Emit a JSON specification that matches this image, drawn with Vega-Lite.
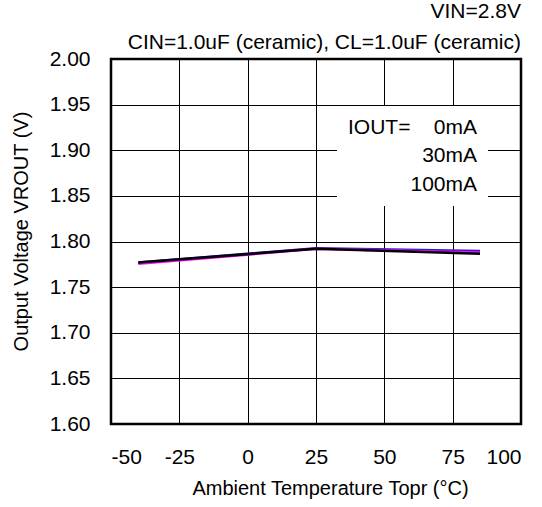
{
  "$schema": "https://vega.github.io/schema/vega-lite/v6.json",
  "width": 410,
  "height": 365,
  "autosize": "none",
  "padding": {"left": 111, "top": 59, "right": 21, "bottom": 83},
  "background": "white",
  "config": {
    "font": "Liberation Sans",
    "view": {"stroke": "black", "strokeWidth": 2.5},
    "axis": {
      "labelFont": "Liberation Sans",
      "titleFont": "Liberation Sans",
      "labelFontSize": 21,
      "titleFontSize": 20,
      "labelColor": "black",
      "titleColor": "black",
      "titleFontWeight": "normal",
      "grid": true,
      "gridColor": "black",
      "gridWidth": 1,
      "gridOpacity": 1,
      "domain": false,
      "ticks": false
    }
  },
  "title": {
    "text": ["VIN=2.8V", "CIN=1.0uF (ceramic), CL=1.0uF (ceramic)"],
    "anchor": "end",
    "align": "right",
    "frame": "group",
    "font": "Liberation Sans",
    "fontSize": 21,
    "fontWeight": "normal",
    "color": "black",
    "lineHeight": 31,
    "offset": -5
  },
  "data": {
    "values": [
      {"T": -40, "V": 1.777, "I": "0mA"},
      {"T": 25, "V": 1.7925, "I": "0mA"},
      {"T": 85, "V": 1.7895, "I": "0mA"},
      {"T": -40, "V": 1.7755, "I": "30mA"},
      {"T": 25, "V": 1.792, "I": "30mA"},
      {"T": 85, "V": 1.788, "I": "30mA"},
      {"T": -40, "V": 1.777, "I": "100mA"},
      {"T": 25, "V": 1.792, "I": "100mA"},
      {"T": 85, "V": 1.7865, "I": "100mA"}
    ]
  },
  "mark": {"type": "line", "strokeWidth": 2.5},
  "encoding": {
    "x": {
      "field": "T",
      "type": "quantitative",
      "scale": {"domain": [-50, 100], "nice": false, "zero": false},
      "axis": {
        "values": [-50, -25, 0, 25, 50, 75, 100],
        "labelExpr": "toString(datum.value)",
        "labelPadding": 22,
        "title": "Ambient Temperature Topr (\u00b0C)",
        "titleX": 219,
        "titleY": 70,
        "titleBaseline": "alphabetic"
      }
    },
    "y": {
      "field": "V",
      "type": "quantitative",
      "scale": {"domain": [1.6, 2.0], "nice": false, "zero": false},
      "axis": {
        "values": [1.6, 1.65, 1.7, 1.75, 1.8, 1.85, 1.9, 1.95, 2.0],
        "format": ".2f",
        "labelPadding": 21,
        "title": "Output Voltage VROUT (V)",
        "titleX": -90,
        "titleY": 172,
        "titleAlign": "center",
        "titleBaseline": "middle"
      }
    },
    "color": {
      "field": "I",
      "type": "nominal",
      "scale": {"domain": ["0mA", "30mA", "100mA"], "range": ["#2a1fd0", "#ff00ff", "#000000"]},
      "legend": {
        "orient": "none",
        "legendX": 226,
        "legendY": 47,
        "title": "IOUT=",
        "titleOrient": "left",
        "titleAnchor": "start",
        "titleBaseline": "top",
        "titleFont": "Liberation Sans",
        "titleFontSize": 21,
        "titleFontWeight": "normal",
        "titleColor": "black",
        "titlePadding": 5,
        "labelFont": "Liberation Sans",
        "labelFontSize": 21,
        "labelColor": "black",
        "labelAlign": "right",
        "labelOffset": 40,
        "symbolOpacity": 0,
        "symbolSize": 0,
        "symbolStrokeWidth": 0,
        "rowPadding": 6.5,
        "fillColor": "white",
        "padding": 11
      }
    }
  }
}
